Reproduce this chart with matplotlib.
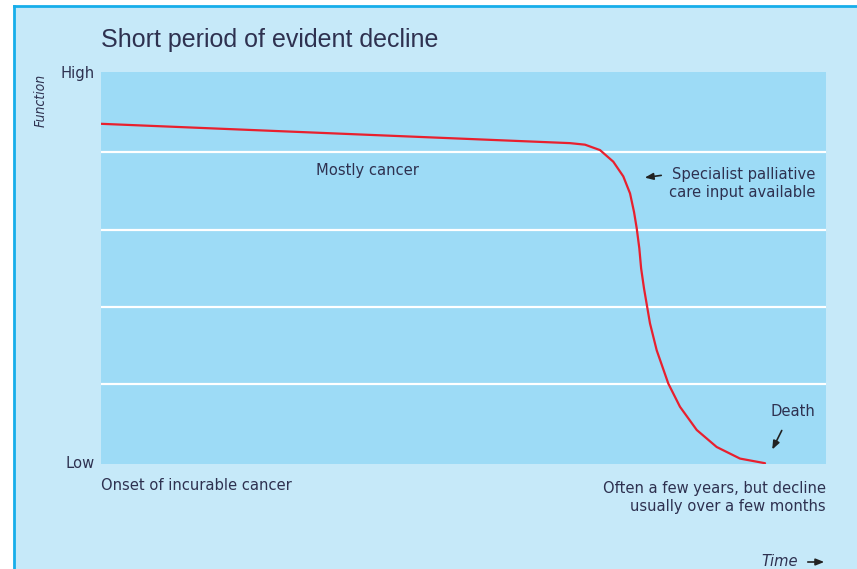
import matplotlib
matplotlib.use("Agg")
import matplotlib.pyplot as plt
from matplotlib.patches import Rectangle, FancyArrowPatch
from matplotlib.lines import Line2D

# ---- data (time in % of trajectory, function level 0=Low .. 5=High) ----
time_pts = [0.0, 64.69, 66.76, 68.83, 70.66, 72.04, 72.97, 73.52, 73.89, 74.25, 74.50, 74.90,
            75.72, 76.65, 78.25, 79.86, 82.17, 84.92, 88.14, 91.59]
function_pts = [4.37, 4.12, 4.10, 4.03, 3.88, 3.69, 3.47, 3.23, 3.02, 2.76, 2.50, 2.24,
                1.79, 1.44, 1.01, 0.71, 0.41, 0.19, 0.04, -0.02]
grid_levels = [1, 2, 3, 4]
y_labels = ["High", "Low"]

W, H = 857, 569
fig = plt.figure(figsize=(W / 100, H / 100), dpi=100)
fig.patch.set_facecolor("white")

def px(x, y):
    return x / W, 1 - y / H

NARROW = dict(family=["DejaVu Sans"], stretch="condensed")
TXT = "#2e3150"
FS = 11.8

# panel background
fig.patches.append(Rectangle(px(14, H), (W - 14) / W, (H - 6) / H, transform=fig.transFigure,
                             facecolor="#c6e9f9", edgecolor="none", zorder=-5))
fig.lines.append(Line2D([14 / W, 1], [1 - 6 / H] * 2, transform=fig.transFigure, color="#17aeea", lw=2, zorder=-4))
fig.lines.append(Line2D([14 / W] * 2, [0, 1 - 6 / H], transform=fig.transFigure, color="#17aeea", lw=2, zorder=-4))

ax = fig.add_axes([101 / W, 1 - 464 / H, 725 / W, (464 - 72) / H])
ax.set_zorder(1)
ax.set_facecolor("#9ddbf6")
ax.set_xlim(0, 100)
ax.set_ylim(-0.03, 5.04)
for s in ax.spines.values():
    s.set_visible(False)
ax.set_xticks([])
ax.set_yticks([])
for g in grid_levels:
    ax.axhline(g, color="white", lw=1.6, zorder=1)

ax.plot(time_pts, function_pts, color="#e8202e", lw=1.6, zorder=3,
        solid_capstyle="round", solid_joinstyle="round")

# texts
fig.text(*px(101, 40), "Short period of evident decline", fontsize=18, color=TXT,
         family=["Liberation Sans", "DejaVu Sans"], va="center", ha="left", zorder=5)
fig.text(*px(95, 74), y_labels[0], fontsize=FS, color=TXT, va="center", ha="right", zorder=5, **NARROW)
fig.text(*px(95, 463), y_labels[1], fontsize=FS, color=TXT, va="center", ha="right", zorder=5, **NARROW)
fig.text(*px(41, 100), "Function", fontsize=10, color=TXT, style="italic",
         rotation=90, va="center", ha="center", zorder=5, **NARROW)
fig.text(*px(101, 486), "Onset of incurable cancer", fontsize=FS, color=TXT,
         va="center", ha="left", zorder=5, **NARROW)
fig.text(*px(367, 170), "Mostly cancer", fontsize=FS, color=TXT, va="center", ha="center",
         zorder=5, **NARROW)
fig.text(*px(815, 183), "Specialist palliative\ncare input available", fontsize=FS, color=TXT,
         va="center", ha="right", linespacing=1.25, zorder=5, **NARROW)
fig.text(*px(793, 412), "Death", fontsize=FS, color=TXT, va="center", ha="center", zorder=5, **NARROW)
fig.text(*px(826, 497), "Often a few years, but decline\nusually over a few months", fontsize=FS,
         color=TXT, va="center", ha="right", linespacing=1.25, zorder=5, **NARROW)
fig.text(*px(798, 561), "Time", fontsize=FS, color=TXT, style="italic",
         va="center", ha="right", zorder=5, **NARROW)

# arrows
arrow_kw = dict(arrowstyle="-|>,head_length=0.5,head_width=0.2", color="#222222", lw=1.2)
for (a, b) in [((664, 175), (642, 178)), ((783, 428), (771, 452)), ((805, 562), (827, 562))]:
    fig.add_artist(FancyArrowPatch(px(*a), px(*b), transform=fig.transFigure,
                                   mutation_scale=10, zorder=6, **arrow_kw))

fig.savefig("out.png", dpi=100)
